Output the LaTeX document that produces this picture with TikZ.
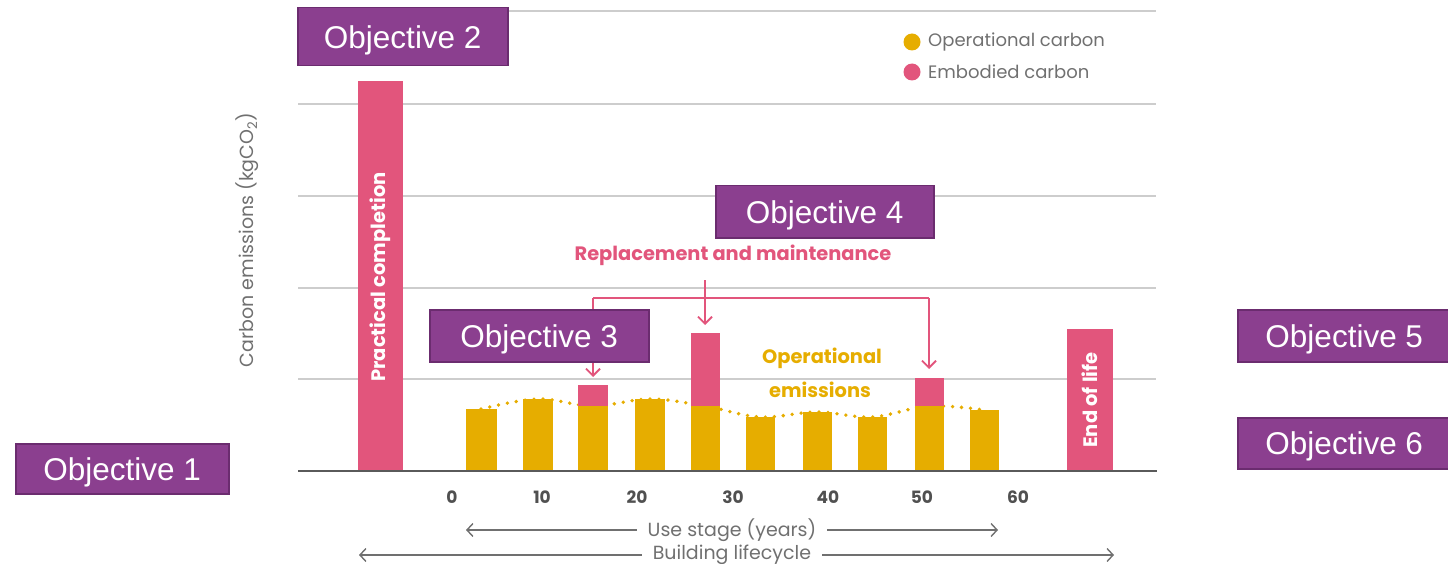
\documentclass[tikz,border=0pt]{standalone}
\usepackage{fontspec}
\setmainfont{Liberation Sans}
\newfontfamily\geo{Poppins}
\usetikzlibrary{arrows.meta}
\definecolor{objfill}{HTML}{8B3F8F}
\definecolor{objdraw}{HTML}{6B2C6F}
\definecolor{pinkc}{HTML}{E2557C}
\definecolor{yelc}{HTML}{E6AD00}
\definecolor{gridc}{HTML}{CDCDCD}
\definecolor{axisc}{HTML}{5A5A5A}
\definecolor{txtc}{HTML}{707070}
\definecolor{numc}{HTML}{505050}
\begin{document}
\begin{tikzpicture}[x=1pt,y=-1pt,
  obj/.style={fill=objfill,draw=objdraw,line width=1.5pt,text=white,
    font=\fontsize{31.5}{36}\selectfont,inner sep=0pt,anchor=north west,
    text height=22.6pt,text depth=0pt},
  gridline/.style={draw=gridc,line width=1.6pt},
  opbar/.style={fill=yelc},
  embar/.style={fill=pinkc},
  pinkarrow/.style={draw=pinkc,line width=1.8pt,-{Straight Barb[length=7pt,width=14pt,line width=1.8pt]}},
  pinkline/.style={draw=pinkc,line width=1.8pt},
  grayarrow/.style={draw=txtc,line width=1.4pt,-{Straight Barb[length=6pt,width=13pt,line width=1.4pt]}},
  bartext/.style={text=white,font=\geo\bfseries\fontsize{19.5}{22}\selectfont,rotate=90,inner sep=0pt},
  tick/.style={text=numc,font=\geo\bfseries\fontsize{17}{20}\selectfont,inner sep=0pt},
  gtext/.style={text=txtc,font=\geo\fontsize{19}{22}\selectfont,inner sep=1pt},
  pinktext/.style={text=pinkc,font=\geo\bfseries\fontsize{19.4}{22}\selectfont,inner sep=0pt},
  yeltext/.style={text=yelc,font=\geo\bfseries\fontsize{19.4}{22}\selectfont,inner sep=0pt},
  legtext/.style={text=txtc,font=\geo\fontsize{18}{21}\selectfont,inner sep=0pt,anchor=west}]
\useasboundingbox (0,0) rectangle (1448,564);
\clip (0,0) rectangle (1448,564);

% grid lines
\foreach \yy in {11,104,196,288,379}{
  \draw[gridline] (298,\yy) -- (1156,\yy);
}
% dotted operational curve
\draw[yelc,line width=3.8pt,line cap=round,dash pattern=on 0pt off 9pt]
  plot[smooth,tension=0.6] coordinates {(481,409) (538,399) (593,406) (650,399) (705,406) (760,417) (817,412) (872,417) (929,406) (984,410)};

% bars
\fill[embar] (358,81) rectangle (403,471);
\node[bartext] (pc) at (380.5,277) {Practical completion};

\fill[opbar] (466,409) rectangle (497,471);
\fill[opbar] (523,399) rectangle (553,471);
\fill[opbar] (578,406) rectangle (608,471);
\fill[embar] (578,385) rectangle (608,406);
\fill[opbar] (635,399) rectangle (665,471);
\fill[opbar] (691,406) rectangle (720,471);
\fill[embar] (691,333) rectangle (720,406);
\fill[opbar] (746,417) rectangle (775,471);
\fill[opbar] (803,412) rectangle (832,471);
\fill[opbar] (858,417) rectangle (887,471);
\fill[opbar] (915,406) rectangle (944,471);
\fill[embar] (915,378) rectangle (944,406);
\fill[opbar] (970,410) rectangle (999,471);

\fill[embar] (1067,329) rectangle (1113,471);
\node[bartext] (eol) at (1090,400) {End of life};

% axis
\draw[axisc,line width=1.6pt] (298,471) -- (1157,471);

% named targets for arrows
\coordinate (t3) at (593,377);
\coordinate (t5) at (705,325);
\coordinate (t9) at (929,369);
\coordinate (hl) at (593,298);
\coordinate (hr) at (929,298);

% replacement and maintenance
\node[pinktext] (rm) at (733,255) {Replacement and maintenance};
\draw[pinkarrow] (705,280) -- (t5);
\draw[pinkline] (hl) -- (hr);
\draw[pinkarrow] (hl) -- (t3);
\draw[pinkarrow] (hr) -- (t9);

% operational emissions label
\node[yeltext] (oe1) at (822,358) {Operational};
\node[yeltext] (oe2) at (820,390) {emissions};

% legend
\fill[yelc] (912,42) circle (8.5);
\fill[pinkc] (912,72) circle (8.5);
\node[legtext] (l1) at (928,42) {Operational carbon};
\node[legtext] (l2) at (928,72) {Embodied carbon};

% y label
\node[gtext,rotate=90] (ylab) at (247,240) {Carbon emissions (kgCO\textsubscript{2})};

% ticks
\foreach \v/\xx in {0/452,10/542,20/637,30/733,40/828,50/922,60/1018}{
  \node[tick] (tk\v) at (\xx,497) {\v};
}

% stage arrows
\node[gtext] (use) at (732,530) {Use stage (years)};
\coordinate (ul) at (466,530);
\coordinate (ur) at (998,530);
\draw[grayarrow] (use.west) ++(-10,0) -- (ul);
\draw[grayarrow] (use.east) ++(10,0) -- (ur);
\node[gtext] (blc) at (732,555) {Building lifecycle};
\coordinate (bl) at (359,555);
\coordinate (br) at (1114,555);
\draw[grayarrow] (blc.west) ++(-10,0) -- (bl);
\draw[grayarrow] (blc.east) ++(10,0) -- (br);

% objectives
\node[obj,minimum width=213pt,minimum height=50pt] (o1) at (15,443) {Objective 1};
\node[obj,minimum width=210pt,minimum height=58pt] (o2) at (297,7) {Objective 2};
\node[obj,minimum width=219pt,minimum height=52pt] (o3) at (429,309) {Objective 3};
\node[obj,minimum width=218pt,minimum height=52pt] (o4) at (715,185) {Objective 4};
\node[obj,minimum width=213pt,minimum height=52pt] (o5) at (1237,309) {Objective 5};
\node[obj,minimum width=213pt,minimum height=51pt] (o6) at (1237,417) {Objective 6};
\end{tikzpicture}
\end{document}
